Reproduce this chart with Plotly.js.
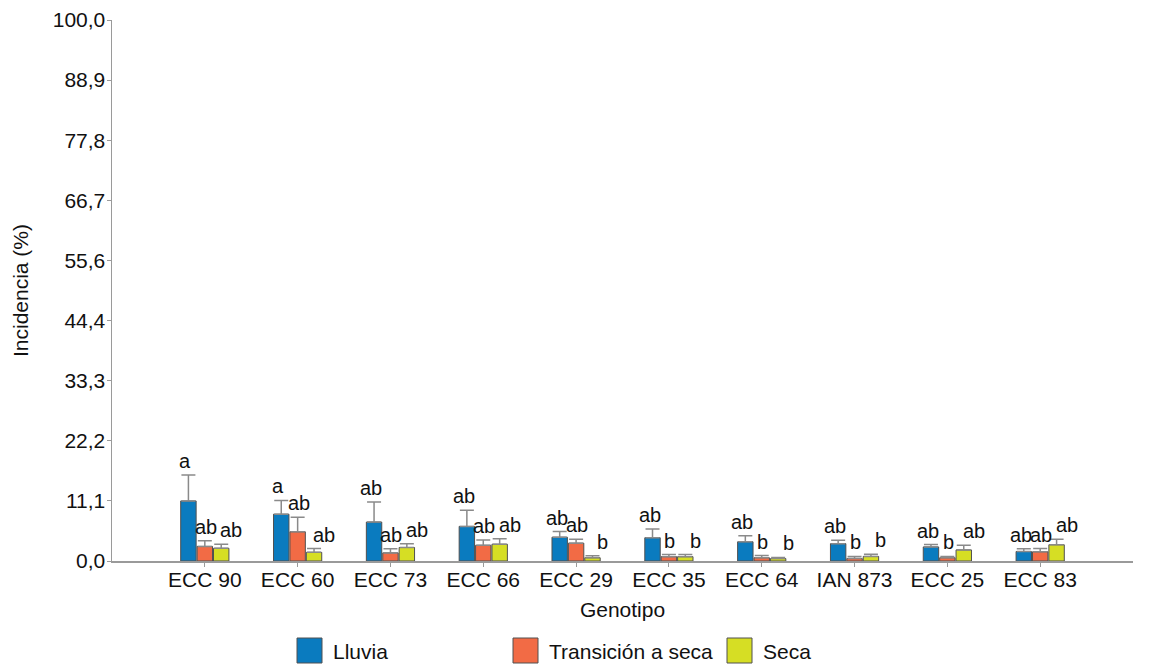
<!DOCTYPE html>
<html>
<head>
<meta charset="utf-8">
<script src="https://cdn.plot.ly/plotly-3.0.1.min.js"></script>
<style>
  html, body { margin: 0; padding: 0; background: #ffffff; }
  #chart { width: 1153px; height: 666px; }
</style>
</head>
<body>
<div id="chart"></div>
<script>
// Genotypes on the x axis
const genotipos = ['ECC 90', 'ECC 60', 'ECC 73', 'ECC 66', 'ECC 29', 'ECC 35', 'ECC 64', 'IAN 873', 'ECC 25', 'ECC 83'];

// Mean incidence (%) per season, with the upper error (standard error)
const lluvia        = [11.1, 8.65, 7.2, 6.4, 4.4, 4.3, 3.55, 3.2, 2.6, 1.75];
const lluviaErr     = [4.8, 2.55, 3.7, 3.0, 1.05, 1.6, 1.1, 0.65, 0.45, 0.5];
const transicion    = [2.7, 5.4, 1.5, 2.9, 3.3, 0.8, 0.6, 0.45, 0.6, 1.7];
const transicionErr = [1.05, 2.7, 0.75, 1.0, 0.7, 0.4, 0.4, 0.4, 0.25, 0.6];
const seca          = [2.35, 1.6, 2.5, 3.1, 0.6, 0.8, 0.45, 0.85, 2.05, 3.0];
const secaErr       = [0.75, 0.7, 0.7, 1.0, 0.35, 0.4, 0.2, 0.4, 0.85, 1.0];

// Significance letters (Tukey groups) per series
const letrasLluvia     = ['a', 'a', 'ab', 'ab', 'ab', 'ab', 'ab', 'ab', 'ab', 'ab'];
const letrasTransicion = ['ab', 'ab', 'ab', 'ab', 'ab', 'b', 'b', 'b', 'b', 'ab'];
const letrasSeca       = ['ab', 'ab', 'ab', 'ab', 'b', 'b', 'b', 'b', 'ab', 'ab'];

// Series names and y tick labels
const seriesNames = ['Lluvia', 'Transición a seca', 'Seca'];
const yTickLabels = ['0,0', '11,1', '22,2', '33,3', '44,4', '55,6', '66,7', '77,8', '88,9', '100,0'];

const colors = ['#0a7bbf', '#f26b45', '#d6de24'];
const FONT = '"Liberation Sans", Arial, Helvetica, sans-serif';
const FS = 21;
const BARGAP = 0.47;

const values = [lluvia, transicion, seca];
const errors = [lluviaErr, transicionErr, secaErr];
const letters = [letrasLluvia, letrasTransicion, letrasSeca];

const traces = values.map((v, k) => ({
  type: 'bar',
  name: seriesNames[k],
  x: genotipos,
  y: v,
  marker: { color: colors[k], line: { color: '#505050', width: 1 } },
  error_y: {
    type: 'data',
    symmetric: false,
    array: errors[k],
    arrayminus: errors[k].map(() => 0),
    color: '#8a8a8a',
    thickness: 1.5,
    width: 7
  },
  showlegend: false,
  hoverinfo: 'x+y'
}));

// Letters sit just above each error bar, nudged apart so neighbours don't collide
const slot = (1 - BARGAP) / 3;
const letterShift = [-3, 1, 10];
const annotations = [];
letters.forEach((arr, k) => {
  arr.forEach((txt, i) => {
    annotations.push({
      x: i + (k - 1) * slot,
      y: values[k][i] + errors[k][i],
      xref: 'x', yref: 'y',
      text: txt,
      showarrow: false,
      yanchor: 'bottom',
      xanchor: 'center',
      xshift: letterShift[k],
      yshift: 1,
      font: { family: FONT, size: 20, color: '#111111' }
    });
  });
});

// Legend drawn below the axis: coloured boxes with their labels
const W = 1153, H = 666;
const M = { l: 112, r: 20, t: 20, b: 105 };
const pw = W - M.l - M.r, ph = H - M.t - M.b;
const px = x => (x - M.l) / pw;
const py = y => (H - M.b - y) / ph;
const legendLeft = [297, 513, 727];
const legendBox = 25;
const legendTop = 638;
const shapes = [];
legendLeft.forEach((lx, k) => {
  shapes.push({
    type: 'rect', xref: 'paper', yref: 'paper',
    x0: px(lx), x1: px(lx + legendBox),
    y0: py(legendTop + legendBox), y1: py(legendTop),
    fillcolor: colors[k],
    line: { color: '#505050', width: 1 }
  });
  annotations.push({
    xref: 'paper', yref: 'paper',
    x: px(lx + legendBox + 9), y: py(legendTop + legendBox / 2 + 1),
    xanchor: 'left', yanchor: 'middle',
    text: seriesNames[k], showarrow: false,
    font: { family: FONT, size: FS, color: '#111111' }
  });
});

const layout = {
  width: W, height: H,
  margin: M,
  paper_bgcolor: '#ffffff',
  plot_bgcolor: '#ffffff',
  barmode: 'group',
  bargap: BARGAP,
  bargroupgap: 0.06,
  font: { family: FONT, size: FS, color: '#111111' },
  showlegend: false,
  xaxis: {
    type: 'category',
    range: [-1, 10],
    showline: true, linecolor: '#9a9a9a', linewidth: 1.5,
    ticks: 'outside', ticklen: 4, tickcolor: '#9a9a9a', tickwidth: 1,
    ticklabelstandoff: -5,
    showgrid: false, zeroline: false,
    tickfont: { family: FONT, size: FS, color: '#111111' },
    title: { text: 'Genotipo', standoff: 12, font: { family: FONT, size: FS, color: '#111111' } }
  },
  yaxis: {
    range: [0, 100],
    tickvals: yTickLabels.map((t, i) => i * 100 / 9),
    ticktext: yTickLabels,
    showline: true, linecolor: '#9a9a9a', linewidth: 1.5,
    ticks: 'outside', ticklen: 4, tickcolor: '#9a9a9a', tickwidth: 1,
    ticklabelstandoff: -3,
    showgrid: false, zeroline: false,
    tickfont: { family: FONT, size: FS, color: '#111111' },
    title: { text: 'Incidencia (%)', standoff: 18, font: { family: FONT, size: FS, color: '#111111' } }
  },
  annotations: annotations,
  shapes: shapes
};

Plotly.newPlot('chart', traces, layout, { displayModeBar: false, staticPlot: true });
</script>
</body>
</html>
